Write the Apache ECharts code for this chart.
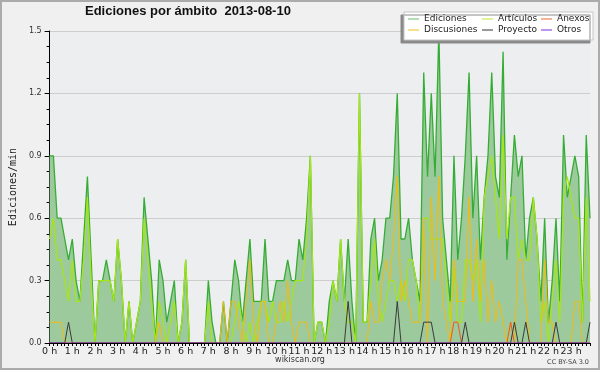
<!DOCTYPE html>
<html>
<head>
<meta charset="utf-8">
<script src="https://cdn.jsdelivr.net/npm/echarts@6/dist/echarts.min.js"></script>
<style>
html,body{margin:0;padding:0;background:#f0f0f0;}
#c{width:600px;height:370px;}
</style>
</head>
<body>
<div id="c"></div>
<script>
// ---- data (edits per minute, 10-minute bins, 2013-08-10) ----
const hourLabels = ['0 h','1 h','2 h','3 h','4 h','5 h','6 h','7 h','8 h','9 h','10 h','11 h','12 h','13 h','14 h','15 h','16 h','17 h','18 h','19 h','20 h','21 h','22 h','23 h'];
const binMinutes = ['00','10','20','30','40','50'];

const ediciones = [
0.9,0.9,0.6,0.6,0.5,0.4, 0.5,0.3,0.2,0.5,0.8,0.4, 0.0,0.3,0.3,0.4,0.3,0.2, 0.5,0.3,0.0,0.2,0.0,0.1,
0.2,0.7,0.5,0.3,0.0,0.4, 0.3,0.1,0.2,0.3,0.0,0.1, 0.4,0.0,0.0,0.0,0.0,0.0, 0.3,0.1,0.0,0.0,0.2,0.0,
0.2,0.4,0.3,0.1,0.3,0.5, 0.2,0.2,0.2,0.5,0.2,0.2, 0.3,0.3,0.3,0.4,0.3,0.3, 0.5,0.4,0.6,0.9,0.0,0.1,
0.1,0.0,0.2,0.3,0.2,0.5, 0.2,0.5,0.2,0.0,1.2,0.1, 0.1,0.5,0.6,0.3,0.4,0.6, 0.6,0.8,1.2,0.5,0.5,0.6,
0.4,0.3,0.2,1.3,0.8,1.2, 0.8,1.5,0.6,0.4,0.2,0.9, 0.4,0.6,0.9,1.3,0.6,0.9, 0.4,0.7,0.9,1.3,0.8,0.7,
1.4,0.4,0.7,1.0,0.8,0.9, 0.4,0.6,0.7,0.5,0.2,0.6, 0.1,0.3,0.6,0.2,1.0,0.7, 0.8,0.9,0.8,0.1,1.0,0.6
];
const articulos = [
0.5,0.6,0.4,0.4,0.3,0.2, 0.4,0.2,0.2,0.4,0.7,0.3, 0.0,0.3,0.3,0.3,0.3,0.2, 0.5,0.3,0.0,0.2,0.0,0.1,
0.2,0.6,0.4,0.2,0.0,0.2, 0.1,0.0,0.1,0.2,0.0,0.1, 0.4,0.0,0.0,0.0,0.0,0.0, 0.2,0.0,0.0,0.0,0.0,0.0,
0.0,0.1,0.2,0.1,0.0,0.1, 0.0,0.1,0.2,0.2,0.1,0.2, 0.1,0.1,0.2,0.1,0.2,0.3, 0.3,0.3,0.5,0.9,0.0,0.1,
0.1,0.0,0.1,0.3,0.2,0.5, 0.2,0.1,0.1,0.0,1.2,0.1, 0.1,0.3,0.5,0.2,0.1,0.2, 0.3,0.3,0.2,0.3,0.2,0.4,
0.4,0.3,0.1,0.6,0.6,0.5, 0.5,0.5,0.5,0.3,0.1,0.4, 0.1,0.1,0.4,0.4,0.3,0.4, 0.1,0.7,0.8,0.9,0.7,0.5,
1.0,0.5,0.7,0.7,0.4,0.5, 0.4,0.4,0.7,0.5,0.1,0.2, 0.0,0.2,0.4,0.1,0.7,0.8, 0.7,0.6,0.6,0.1,0.7,0.2
];
const discusiones = [
0.1,0.1,0.1,0.1,0.0,0.0, 0.0,0.0,0.0,0.0,0.0,0.0, 0.0,0.0,0.0,0.0,0.0,0.0, 0.0,0.0,0.0,0.0,0.0,0.0,
0.0,0.0,0.0,0.0,0.0,0.1, 0.0,0.0,0.0,0.0,0.0,0.0, 0.0,0.0,0.0,0.0,0.0,0.0, 0.0,0.0,0.0,0.0,0.2,0.0,
0.2,0.2,0.1,0.0,0.2,0.4, 0.1,0.0,0.2,0.2,0.0,0.0, 0.1,0.2,0.1,0.3,0.1,0.0, 0.1,0.1,0.1,0.0,0.0,0.0,
0.0,0.0,0.0,0.0,0.0,0.0, 0.0,0.0,0.0,0.0,0.0,0.0, 0.0,0.2,0.1,0.1,0.3,0.4, 0.3,0.5,0.8,0.2,0.3,0.2,
0.1,0.1,0.1,0.6,0.0,0.7, 0.3,0.8,0.2,0.1,0.0,0.4, 0.2,0.2,0.2,0.7,0.2,0.5, 0.2,0.4,0.1,0.3,0.1,0.2,
0.1,0.0,0.1,0.0,0.4,0.4, 0.2,0.0,0.0,0.0,0.0,0.4, 0.1,0.1,0.0,0.0,0.0,0.0, 0.0,0.2,0.2,0.0,0.0,0.0
];
const anexos = [
0,0,0,0,0,0, 0,0,0,0,0,0, 0,0,0,0,0,0, 0,0,0,0,0,0,
0,0,0,0,0,0, 0,0,0,0,0,0, 0,0,0,0,0,0, 0,0,0,0,0,0,
0,0,0,0,0,0, 0,0,0,0,0,0, 0,0,0,0,0,0, 0,0,0,0,0,0,
0,0,0,0,0,0, 0,0,0,0,0,0, 0,0,0,0,0,0, 0,0,0,0,0,0,
0,0,0,0,0,0, 0,0,0,0,0,0.1, 0.1,0,0,0,0,0, 0,0,0,0,0,0,
0,0,0.1,0,0,0, 0,0,0,0,0,0, 0,0,0,0,0,0, 0,0,0,0,0,0
];
const proyecto = [
0,0,0,0,0,0.1, 0,0,0,0,0,0, 0,0,0,0,0,0, 0,0,0,0,0,0,
0,0,0,0,0,0, 0,0,0,0,0,0, 0,0,0,0,0,0, 0,0,0,0,0,0,
0,0,0,0,0,0, 0,0,0,0,0,0, 0,0,0,0,0,0, 0,0,0,0,0,0,
0,0,0,0,0,0, 0,0.2,0,0,0,0, 0,0,0,0,0,0, 0,0,0.2,0,0,0,
0,0,0,0.1,0.1,0.1, 0,0,0,0,0,0, 0,0,0.1,0,0,0, 0,0,0,0,0,0,
0,0,0,0.1,0,0, 0.1,0,0,0,0,0, 0,0,0.1,0,0,0, 0,0,0,0,0,0.1
];
const otros = [
0,0,0,0,0,0, 0,0,0,0,0,0, 0,0,0,0,0,0, 0,0,0,0,0,0,
0,0,0,0,0,0, 0,0,0,0,0,0, 0,0,0,0,0,0, 0,0,0,0,0,0,
0,0,0,0,0,0, 0,0,0,0,0,0, 0,0,0,0,0,0, 0,0,0,0,0,0,
0,0,0,0,0,0, 0,0,0,0,0,0, 0,0,0,0,0,0, 0,0,0,0,0,0,
0,0,0,0,0,0, 0,0,0,0,0,0, 0,0,0,0,0,0, 0,0,0,0,0,0,
0,0,0,0,0,0, 0,0,0,0,0,0, 0,0,0,0,0,0, 0,0,0,0,0,0
];
const yTicks = [0, 0.3, 0.6, 0.9, 1.2, 1.5];

// categories: one per 10-minute bin
const categories = [];
for (let h = 0; h < hourLabels.length; h++) {
  for (const m of binMinutes) categories.push(h + ':' + m);
}

const chart = echarts.init(document.getElementById('c'), null, {renderer: 'canvas'});
const legendText = {fontFamily: 'DejaVu Sans', fontSize: 9, color: '#222', lineHeight: 10};
function mkLegend(left, names, colors) {
  return {
    orient: 'vertical', left: left, top: 14, padding: 0, itemGap: 1,
    itemWidth: 11, itemHeight: 1.2, icon: 'rect', selectedMode: false,
    textStyle: legendText,
    data: names.map((n, i) => ({name: n, icon: 'rect', itemStyle: {color: colors[i], borderWidth: 0}}))
  };
}
const base = {type: 'line', symbol: 'none', showSymbol: false, animation: false, z: 2};
chart.setOption({
  backgroundColor: '#f0f0f0',
  animation: false,
  title: {
    text: 'Ediciones por ámbito  2013-08-10',
    left: 85, top: 5, padding: 0,
    textStyle: {fontFamily: 'Liberation Sans', fontWeight: 'bold', fontSize: 13, color: '#111'}
  },
  legend: [
    mkLegend(408, ['Ediciones', 'Discusiones'], ['#80c880', '#f0cc40']),
    mkLegend(482, ['Artículos', 'Proyecto'], ['#c8ec50', '#555555']),
    mkLegend(541, ['Anexos', 'Otros'], ['#f08050', '#9050e0'])
  ],
  grid: {left: 46, right: 10, top: 31, bottom: 27, show: true, backgroundColor: '#edeef0', borderWidth: 0},
  xAxis: {
    type: 'category', data: categories, boundaryGap: false, z: 5,
    axisLine: {show: true, lineStyle: {color: '#000', width: 1}},
    axisTick: {show: true, interval: 0, length: 3, lineStyle: {color: '#000'}},
    axisLabel: {
      interval: 5, margin: 4, fontFamily: 'DejaVu Sans', fontSize: 9.5, color: '#222',
      formatter: (v, idx) => hourLabels[Math.floor(idx / binMinutes.length)]
    },
    splitLine: {show: false}
  },
  yAxis: {
    type: 'value', min: yTicks[0], max: yTicks[yTicks.length - 1], interval: yTicks[1] - yTicks[0],
    name: 'Ediciones/min', nameLocation: 'middle', nameRotate: 90, nameGap: 31,
    nameTextStyle: {fontFamily: 'DejaVu Sans Mono', fontSize: 10, color: '#222'},
    axisLine: {show: true, lineStyle: {color: '#000', width: 1}},
    axisTick: {show: true, length: 5, lineStyle: {color: '#000'}},
    minorTick: {show: true, splitNumber: 4, length: 3, lineStyle: {color: '#000'}},
    axisLabel: {margin: 8, fontFamily: 'DejaVu Sans', fontSize: 8, color: '#333', formatter: v => v.toFixed(1)},
    splitLine: {show: true, lineStyle: {color: '#cdcdcd', width: 1}}
  },
  series: [
    Object.assign({}, base, {name: 'Ediciones', data: ediciones,
      lineStyle: {color: '#35ad35', width: 1.3}, itemStyle: {color: '#35ad35'},
      areaStyle: {color: '#9dca9d', opacity: 1}}),
    Object.assign({}, base, {name: 'Artículos', data: articulos, z: 3,
      lineStyle: {color: '#a6e614', width: 1.2}, itemStyle: {color: '#a6e614'}}),
    Object.assign({}, base, {name: 'Discusiones', data: discusiones, z: 3,
      lineStyle: {color: '#f2bb10', width: 1}, itemStyle: {color: '#f2bb10'}}),
    Object.assign({}, base, {name: 'Anexos', data: anexos, z: 3,
      lineStyle: {color: '#ee5522', width: 1}, itemStyle: {color: '#ee5522'}}),
    Object.assign({}, base, {name: 'Proyecto', data: proyecto, z: 3,
      lineStyle: {color: '#3a3a3a', width: 1}, itemStyle: {color: '#3a3a3a'}}),
    Object.assign({}, base, {name: 'Otros', data: otros, z: 3,
      lineStyle: {color: '#8a3ee0', width: 1}, itemStyle: {color: '#8a3ee0'}})
  ],
  graphic: [
    {type: 'rect', shape: {x: 1, y: 1, width: 598, height: 368}, z: -10, silent: true,
     style: {fill: null, stroke: '#ababab', lineWidth: 2}},
    {type: 'rect', shape: {x: 404, y: 12, width: 189, height: 28}, z: 4, silent: true,
     style: {fill: '#ffffff', stroke: '#c4c4c4', lineWidth: 1,
             shadowColor: '#8a8a8a', shadowOffsetX: -3, shadowOffsetY: 3, shadowBlur: 0}},
    {type: 'text', x: 300, y: 360, z: 10, silent: true,
     style: {text: 'wikiscan.org', fontFamily: 'DejaVu Sans', fontSize: 8, fill: '#333', align: 'center', verticalAlign: 'middle'}},
    {type: 'text', x: 589, y: 362, z: 10, silent: true,
     style: {text: 'CC BY-SA 3.0', fontFamily: 'DejaVu Sans', fontSize: 6.5, fill: '#444', align: 'right', verticalAlign: 'middle'}}
  ]
});
</script>
</body>
</html>
